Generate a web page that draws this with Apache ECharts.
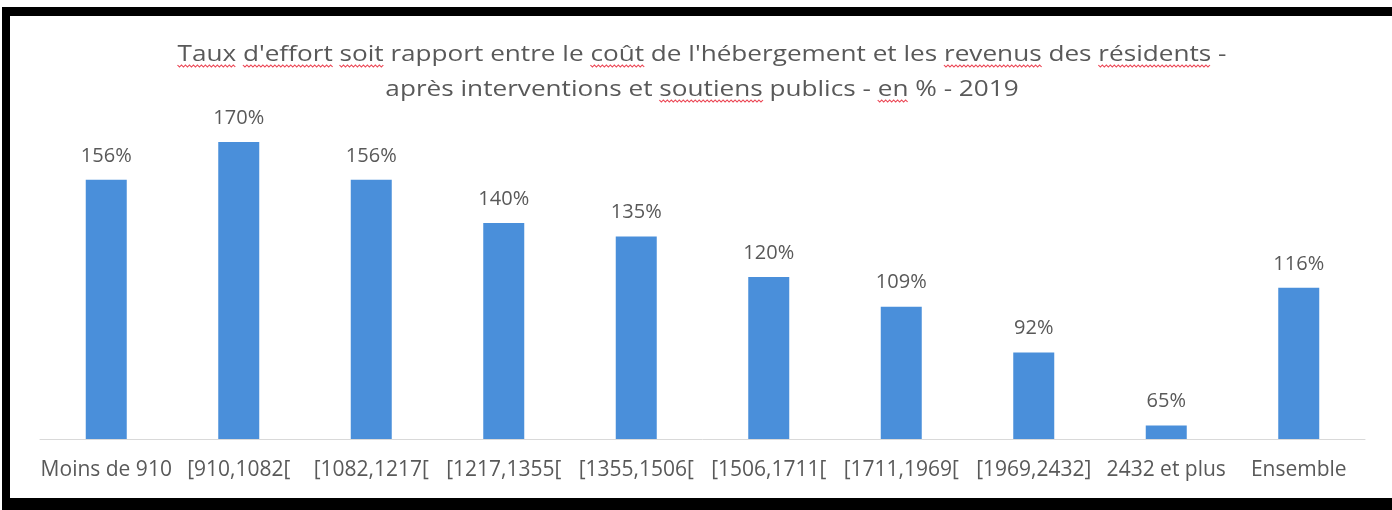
<!DOCTYPE html>
<html>
<head>
<meta charset="utf-8">
<script src="https://cdn.jsdelivr.net/npm/echarts@6/dist/echarts.min.js"></script>
<style>
  html, body { margin: 0; padding: 0; background: #ffffff; }
  #chart { width: 1392px; height: 510px; }
</style>
</head>
<body>
<div id="chart"></div>
<script>
// Income brackets (monthly resources, €) and the effort rate for each, in %
const categories = ['Moins de 910', '[910,1082[', '[1082,1217[', '[1217,1355[', '[1355,1506[',
  '[1506,1711[', '[1711,1969[', '[1969,2432]', '2432 et plus', 'Ensemble'];
const effortRates = [156, 170, 156, 140, 135, 120, 109, 92, 65, 116];

const titleLines = [
  "Taux d'effort soit rapport entre le coût de l'hébergement et les revenus des résidents -",
  "après interventions et soutiens publics - en % - 2019"
];
// Words flagged by the spell checker (line index, word)
const flaggedWords = [
  [0, 'Taux'], [0, "d'effort"], [0, 'soit'], [0, 'coût'], [0, 'revenus'], [0, 'résidents'],
  [1, 'soutiens'], [1, 'en']
];

const FONT = '"Open Sans", "Noto Sans", sans-serif';
const TEXT_COLOR = '#595959';
const BAR_COLOR = '#4a8fda';
const TITLE_SIZE = 21;
const TITLE_CX = 702;
const TITLE_WIDTH = 1049;   // the first title line is stretched to this width
const TITLE_Y = [55, 90];

const chart = echarts.init(document.getElementById('chart'), null, { renderer: 'canvas' });

// Position of a whole word (not a fragment of a longer one) inside a line
function wordIndex(line, word) {
  const padded = ' ' + line + ' ';
  return padded.indexOf(' ' + word + ' ');
}

// Title lines and wavy spell-check underlines, drawn in one horizontally stretched group
const ctx = document.createElement('canvas').getContext('2d');
ctx.font = TITLE_SIZE + 'px ' + FONT;
const stretch = TITLE_WIDTH / ctx.measureText(titleLines[0]).width;
const titleChildren = [];
titleLines.forEach(function (line, i) {
  titleChildren.push({
    type: 'text',
    style: { text: line, x: 0, y: TITLE_Y[i], textAlign: 'center', textVerticalAlign: 'middle',
      font: TITLE_SIZE + 'px ' + FONT, fill: TEXT_COLOR }
  });
});
flaggedWords.forEach(function (fw) {
  const line = titleLines[fw[0]];
  const lineW = ctx.measureText(line).width;
  const idx = wordIndex(line, fw[1]);
  const x0 = -lineW / 2 + ctx.measureText(line.slice(0, idx)).width;
  const x1 = x0 + ctx.measureText(fw[1]).width;
  const base = TITLE_Y[fw[0]] + 10;
  const pts = [];
  let k = 0;
  for (let x = x0; x <= x1 + 0.5; x += 1.6, k++) pts.push([x, base + (k % 2 ? 2 : 0)]);
  titleChildren.push({
    type: 'polyline',
    shape: { points: pts },
    style: { stroke: '#ec4a58', lineWidth: 1, fill: null }
  });
});
const graphics = [{
  type: 'group', x: TITLE_CX, y: 0, scaleX: stretch, z: 10, children: titleChildren
}];
// Black frame around the chart
graphics.push({ type: 'rect', z: 20, shape: { x: 2, y: 7, width: 1390, height: 9 }, style: { fill: '#000' } });
graphics.push({ type: 'rect', z: 20, shape: { x: 2, y: 7, width: 8, height: 503 }, style: { fill: '#000' } });
graphics.push({ type: 'rect', z: 20, shape: { x: 2, y: 498, width: 1390, height: 12 }, style: { fill: '#000' } });

chart.setOption({
  backgroundColor: '#ffffff',
  animation: false,
  graphic: graphics,
  grid: { left: 40, right: 27, top: 115, bottom: 71, containLabel: false },
  xAxis: {
    type: 'category',
    data: categories,
    axisLine: { show: true, lineStyle: { color: '#d9d9d9', width: 1 } },
    axisTick: { show: false },
    axisLabel: { color: TEXT_COLOR, fontFamily: FONT, fontSize: 21, margin: 21, interval: 0 }
  },
  yAxis: {
    type: 'value', min: 60, max: 180, show: false,
    splitLine: { show: false }
  },
  series: [{
    type: 'bar',
    data: effortRates,
    barWidth: 41,
    itemStyle: { color: BAR_COLOR },
    label: {
      show: true, position: 'top', distance: 14,
      formatter: function (p) { return p.value + '%'; },
      color: TEXT_COLOR, fontFamily: FONT, fontSize: 20
    }
  }]
});
</script>
</body>
</html>
